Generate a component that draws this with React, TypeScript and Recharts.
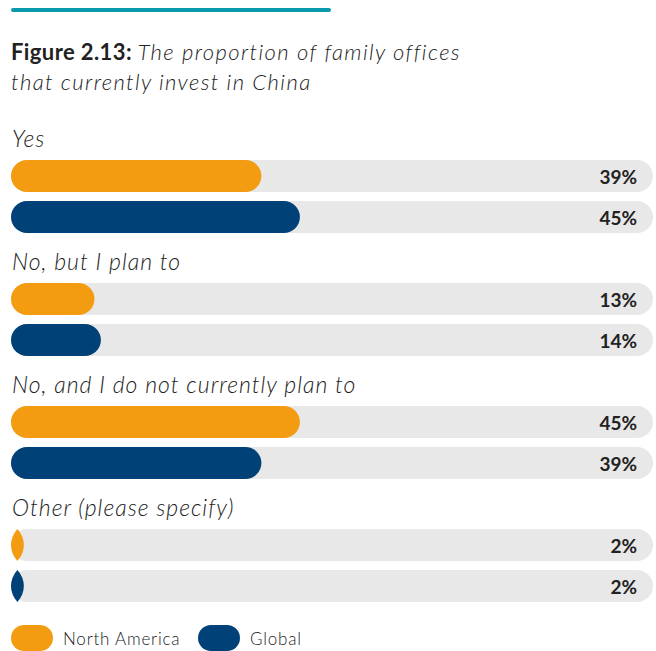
import React from "react";
import { BarChart, Bar, XAxis, YAxis, LabelList, Rectangle } from "recharts";

const categories = [
  "Yes",
  "No, but I plan to",
  "No, and I do not currently plan to",
  "Other (please specify)",
];
const northAmerica = [39, 13, 45, 2];
const globalValues = [45, 14, 39, 2];
const seriesNames = ["North America", "Global"];
const seriesColors = ["#F39C12", "#004278"];

const data = categories.map((name, i) => ({
  name,
  na: northAmerica[i],
  gl: globalValues[i],
}));

const FONT = "Lato, 'Open Sans', sans-serif";
const TEXT = "#222";

const CategoryLabel = (props: any) => {
  const { y, value } = props;
  return (
    <text
      x={12}
      y={y - 13}
      fontFamily={FONT}
      fontStyle="italic"
      fontWeight={300}
      fontSize={23}
      letterSpacing={1}
      fill={TEXT}
    >
      {value}
    </text>
  );
};

const PillShape = (props: any) => {
  const { x, y, width, height, fill } = props;
  if (width <= 0) return null;
  if (width < height) {
    const cx = x + width / 2;
    const s = width / 2;
    const R = (height * height) / 4 / (2 * s) + s / 2;
    const d = `M ${cx} ${y} A ${R} ${R} 0 0 0 ${cx} ${y + height} A ${R} ${R} 0 0 0 ${cx} ${y} Z`;
    return <path d={d} fill={fill} />;
  }
  return <Rectangle x={x} y={y} width={width} height={height} fill={fill} radius={height / 2} />;
};

const ValueLabel = (props: any) => {
  const { y, height, value } = props;
  return (
    <text
      x={637}
      y={y + height / 2}
      textAnchor="end"
      dominantBaseline="central"
      fontFamily={FONT}
      fontWeight={700}
      fontSize={19}
      fill={TEXT}
    >
      {value}%
    </text>
  );
};

export default function App() {
  return (
    <div
      style={{
        position: "absolute",
        left: 0,
        top: 0,
        width: 656,
        height: 651,
        overflow: "hidden",
        background: "#fff",
        fontFamily: FONT,
      }}
    >
      <div
        style={{
          position: "absolute",
          left: 11,
          top: 8,
          width: 320,
          height: 4,
          borderRadius: 2,
          background: "#0A9AAD",
        }}
      />
      <div
        style={{
          position: "absolute",
          left: 11,
          top: 37,
          fontSize: 22,
          lineHeight: "30px",
          color: TEXT,
          whiteSpace: "nowrap",
        }}
      >
        <span style={{ fontWeight: 700, letterSpacing: 0.4 }}>Figure 2.13:</span>{" "}
        <span style={{ fontStyle: "italic", fontWeight: 300, letterSpacing: 1.4 }}>
          The proportion of family offices
          <br />
          that currently invest in China
        </span>
      </div>
      <div style={{ position: "absolute", left: 0, top: 0 }}>
        <BarChart
          width={656}
          height={651}
          data={data}
          layout="vertical"
          margin={{ top: 135, right: 3, bottom: 24, left: 11 }}
          barSize={32}
          barGap={9}
        >
          <XAxis type="number" domain={[0, 100]} hide />
          <YAxis type="category" dataKey="name" hide />
          <Bar
            dataKey="na"
            fill={seriesColors[0]}
            background={{ fill: "#E8E8E8", radius: 16 } as any}
            shape={<PillShape />}
            isAnimationActive={false}
          >
            <LabelList dataKey="na" content={<ValueLabel />} />
            <LabelList dataKey="name" content={<CategoryLabel />} />
          </Bar>
          <Bar
            dataKey="gl"
            fill={seriesColors[1]}
            background={{ fill: "#E8E8E8", radius: 16 } as any}
            shape={<PillShape />}
            isAnimationActive={false}
          >
            <LabelList dataKey="gl" content={<ValueLabel />} />
          </Bar>
        </BarChart>
      </div>
      {seriesNames.map((n, i) => (
        <div
          key={n}
          style={{
            position: "absolute",
            left: i === 0 ? 11 : 198,
            top: 625,
            display: "flex",
            alignItems: "center",
            height: 26,
          }}
        >
          <div
            style={{
              width: 42,
              height: 26,
              borderRadius: 13,
              background: seriesColors[i],
              marginRight: 10,
            }}
          />
          <span style={{ fontSize: 17, fontWeight: 300, color: TEXT, letterSpacing: 0.8 }}>{n}</span>
        </div>
      ))}
    </div>
  );
}
